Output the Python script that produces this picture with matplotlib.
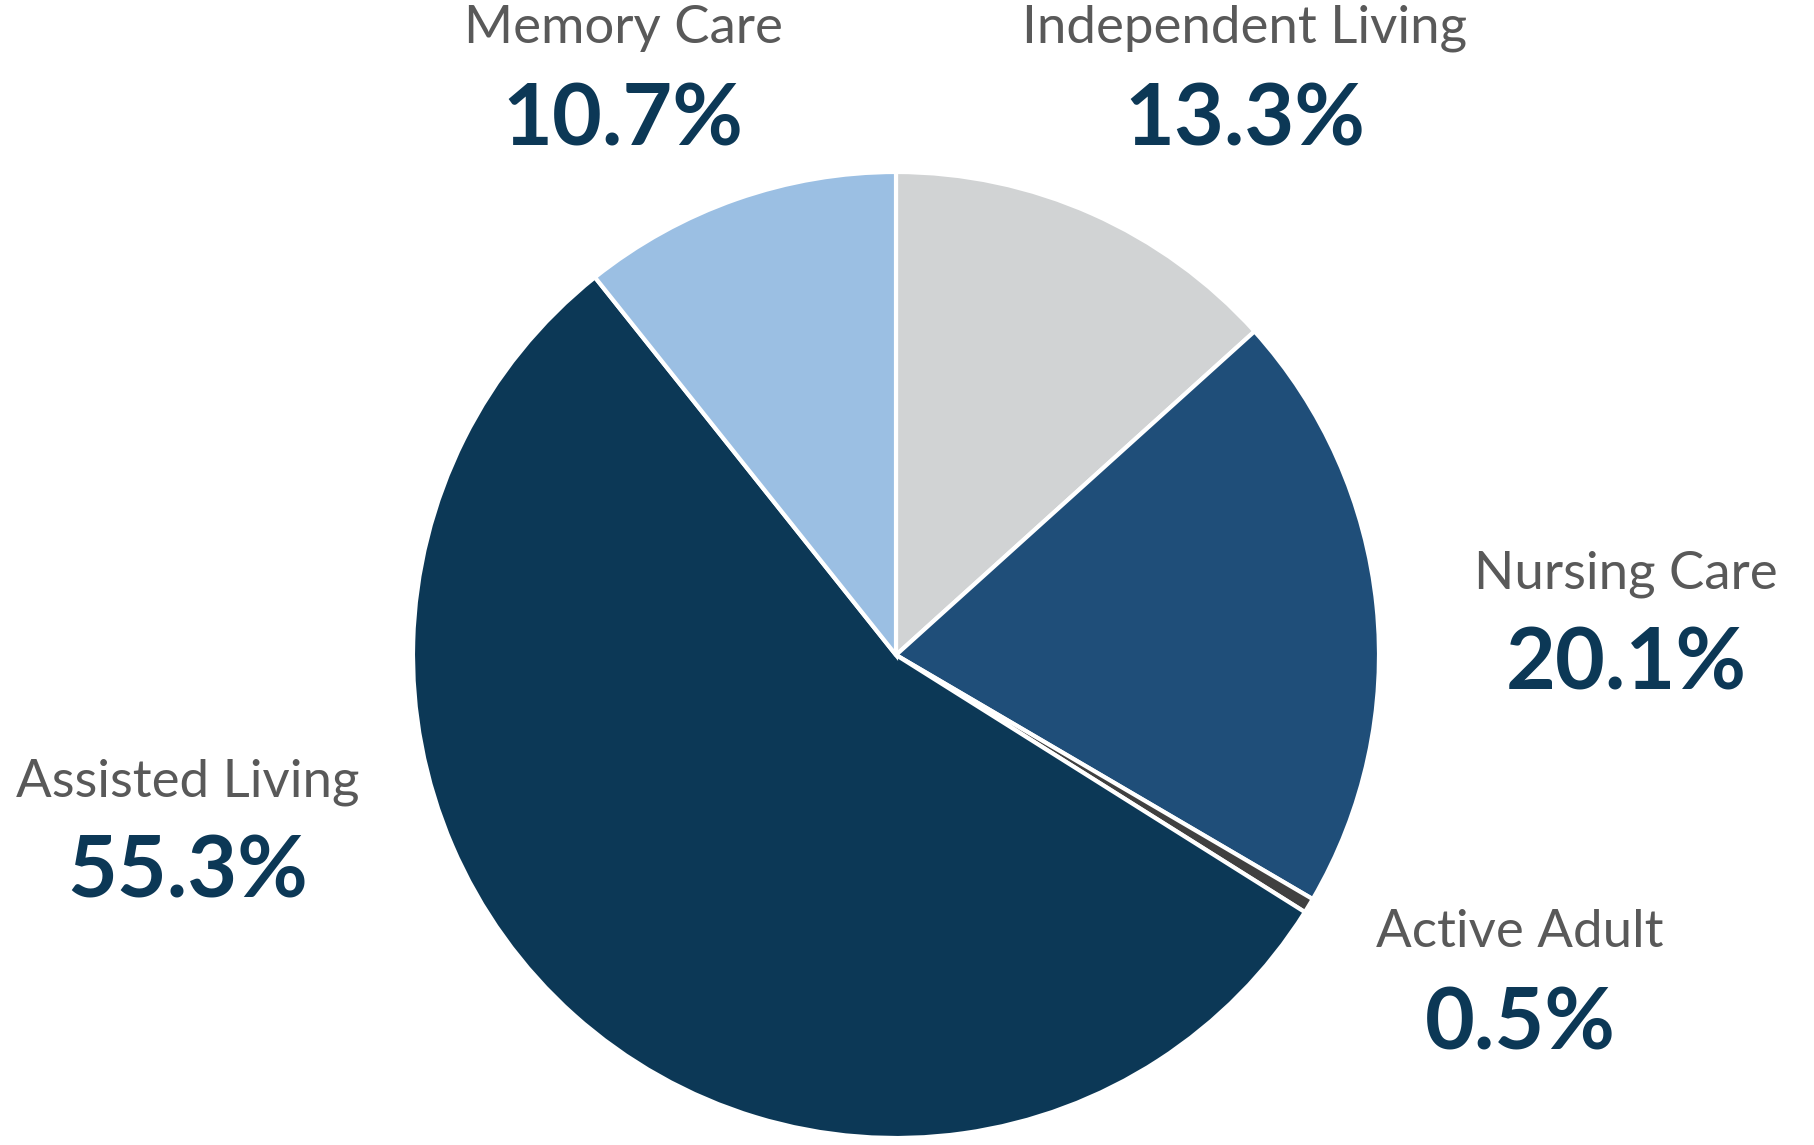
import matplotlib.pyplot as plt

categories = ["Independent Living", "Nursing Care", "Active Adult", "Assisted Living", "Memory Care"]
shares = [13.3, 20.1, 0.5, 55.3, 10.7]
colors = ["#D1D3D4", "#1F4E79", "#404040", "#0C3856", "#9BBFE3"]

# label anchor points in pixels (x centre, baseline of name, baseline of percent)
label_pos = {
    "Independent Living": (1245, 43, 145),
    "Nursing Care": (1626, 589, 689),
    "Active Adult": (1520, 947, 1049),
    "Assisted Living": (188, 796, 897),
    "Memory Care": (623, 43, 145),
}

W, H = 1814, 1145
fig = plt.figure(figsize=(W / 100, H / 100), dpi=100)
ax = fig.add_axes([0, 0, 1, 1])
ax.set_xlim(0, W)
ax.set_ylim(0, H)
ax.set_aspect("equal")
ax.axis("off")

ax.pie(shares, colors=colors, startangle=90, counterclock=False,
       center=(896, H - 655), radius=483,
       wedgeprops=dict(edgecolor="white", linewidth=3))
ax.set_xlim(0, W)
ax.set_ylim(0, H)

for name, val in zip(categories, shares):
    x, y1, y2 = label_pos[name]
    ax.text(x, H - y1, name, ha="center", va="baseline", fontsize=38,
            color="#595959", family="Lato")
    ax.text(x, H - y2, f"{val:.1f}%", ha="center", va="baseline", fontsize=62,
            color="#0C3856", family="Lato", fontweight="bold")

fig.savefig("out.png", dpi=100)
